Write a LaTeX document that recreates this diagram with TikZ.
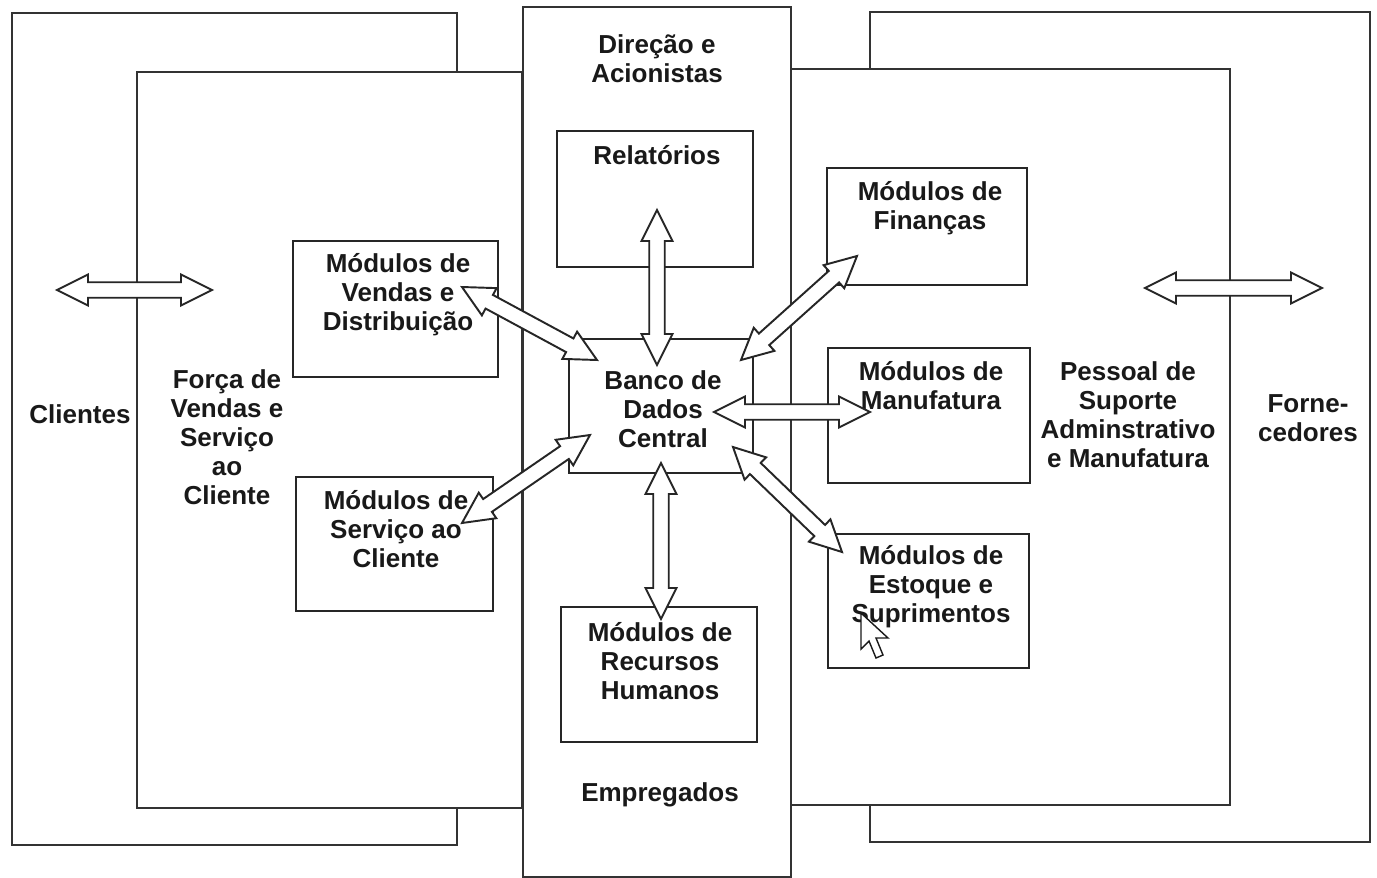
\documentclass[tikz,border=0pt]{standalone}
\usepackage{fontspec}
\setmainfont{Liberation Sans}
\usetikzlibrary{calc,fit}

% Maße der Blockpfeile
\newcommand{\pkopf}{0.62cm}
\newcommand{\pbreit}{0.31cm}
\newcommand{\pschaft}{0.155cm}
% Doppelpfeil zwischen zwei Punkten
\newcommand{\doppelpfeil}[2]{%
  \draw[pfeil] (#1)
    -- ($(#1)!\pkopf!(#2)!\pbreit!90:(#2)$)
    -- ($(#1)!\pkopf!(#2)!\pschaft!90:(#2)$)
    -- ($(#2)!\pkopf!(#1)!\pschaft!-90:(#1)$)
    -- ($(#2)!\pkopf!(#1)!\pbreit!-90:(#1)$)
    -- (#2)
    -- ($(#2)!\pkopf!(#1)!\pbreit!90:(#1)$)
    -- ($(#2)!\pkopf!(#1)!\pschaft!90:(#1)$)
    -- ($(#1)!\pkopf!(#2)!\pschaft!-90:(#2)$)
    -- ($(#1)!\pkopf!(#2)!\pbreit!-90:(#2)$)
    -- cycle;}

\begin{document}
\begin{tikzpicture}[x=0.02cm, y=-0.02cm,
    rahmen/.style={draw=black!80, line width=1.3pt, fill=white},
    modul/.style={draw=black!85, line width=1.2pt, fill=white, inner sep=0pt},
    pfeil/.style={draw=black!85, line width=1.1pt, fill=white, line join=miter},
    rotulo/.style={font=\bfseries\fontsize{14.8}{16.5}\selectfont, align=center,
        inner sep=0pt, text=black!90}]

    \useasboundingbox (0,0) rectangle (1377,877);

    % Außenrahmen
    \draw[rahmen] (12,13) rectangle (457,845);
    \draw[rahmen] (870,12) rectangle (1370,842);

    % Innenrahmen
    \draw[rahmen] (137,72) rectangle (522,808);
    \draw[rahmen] (791,69) rectangle (1230,805);

    % Mittlere Spalte
    \draw[rahmen] (523,7) rectangle (791,877);

    % Module
    \node[modul, fit={(557,131) (753,267)}] (rel) {};
    \node[modul, fit={(569,339) (753,473)}] (banco) {};
    \node[modul, fit={(293,241) (498,377)}] (vendas) {};
    \node[modul, fit={(296,477) (493,611)}] (servico) {};
    \node[modul, fit={(827,168) (1027,285)}] (fin) {};
    \node[modul, fit={(828,348) (1030,483)}] (manu) {};
    \node[modul, fit={(828,534) (1029,668)}] (estoque) {};
    \node[modul, fit={(561,607) (757,742)}] (rh) {};

    % Beschriftungen
    \node[rotulo] (direcao) at (657,59) {Direção e\\Acionistas};
    \node[rotulo] (relT) at (657,155) {Relatórios};
    \node[rotulo] (bancoT) at (663,409) {Banco de\\Dados\\Central};
    \node[rotulo] (vendasT) at (398,295) {Módulos de\\Vendas e\\Distribuição};
    \node[rotulo] (servicoT) at (396,529) {Módulos de\\Serviço ao\\Cliente};
    \node[rotulo] (finT) at (930,208) {Módulos de\\Finanças};
    \node[rotulo] (manuT) at (931,386) {Módulos de\\Manufatura};
    \node[rotulo] (estoqueT) at (931,587) {Módulos de\\Estoque e\\Suprimentos};
    \node[rotulo] (rhT) at (660,661) {Módulos de\\Recursos\\Humanos};
    \node[rotulo] (empregados) at (660,795) {Empregados};
    \node[rotulo] (clientes) at (80,414) {Clientes};
    \node[rotulo] (forca) at (227,437) {Força de\\Vendas e\\Serviço\\ao\\Cliente};
    \node[rotulo] (pessoal) at (1128,415) {Pessoal de\\Suporte\\Adminstrativo\\e Manufatura};
    \node[rotulo] (fornecedores) at (1308,418) {Forne-\\cedores};

    % Pfeilenden
    \coordinate (cliA) at (57,290);
    \coordinate (cliB) at (212,290);
    \coordinate (forA) at (1145,288);
    \coordinate (forB) at (1322,288);
    \coordinate (relA) at (657,210);
    \coordinate (relB) at (657,365);
    \coordinate (rhA) at (661,463);
    \coordinate (rhB) at (661,619);
    \coordinate (venA) at (462,287);
    \coordinate (venB) at (597,360);
    \coordinate (serA) at (462,523);
    \coordinate (serB) at (590,435);
    \coordinate (finA) at (857,256);
    \coordinate (finB) at (741,360);
    \coordinate (manA) at (714,412);
    \coordinate (manB) at (870,412);
    \coordinate (estA) at (733,447);
    \coordinate (estB) at (842,552);

    % Doppelpfeile
    \doppelpfeil{cliA}{cliB}
    \doppelpfeil{forA}{forB}
    \doppelpfeil{relA}{relB}
    \doppelpfeil{rhA}{rhB}
    \doppelpfeil{venA}{venB}
    \doppelpfeil{serA}{serB}
    \doppelpfeil{finA}{finB}
    \doppelpfeil{manA}{manB}
    \doppelpfeil{estA}{estB}

    % Mauszeiger
    \draw[fill=white, draw=black!90, line width=0.8pt, line join=miter]
        (861,613) -- (861,649) -- (869,641) -- (876,658) -- (883,655)
        -- (876,638) -- (888,638) -- cycle;

\end{tikzpicture}
\end{document}
